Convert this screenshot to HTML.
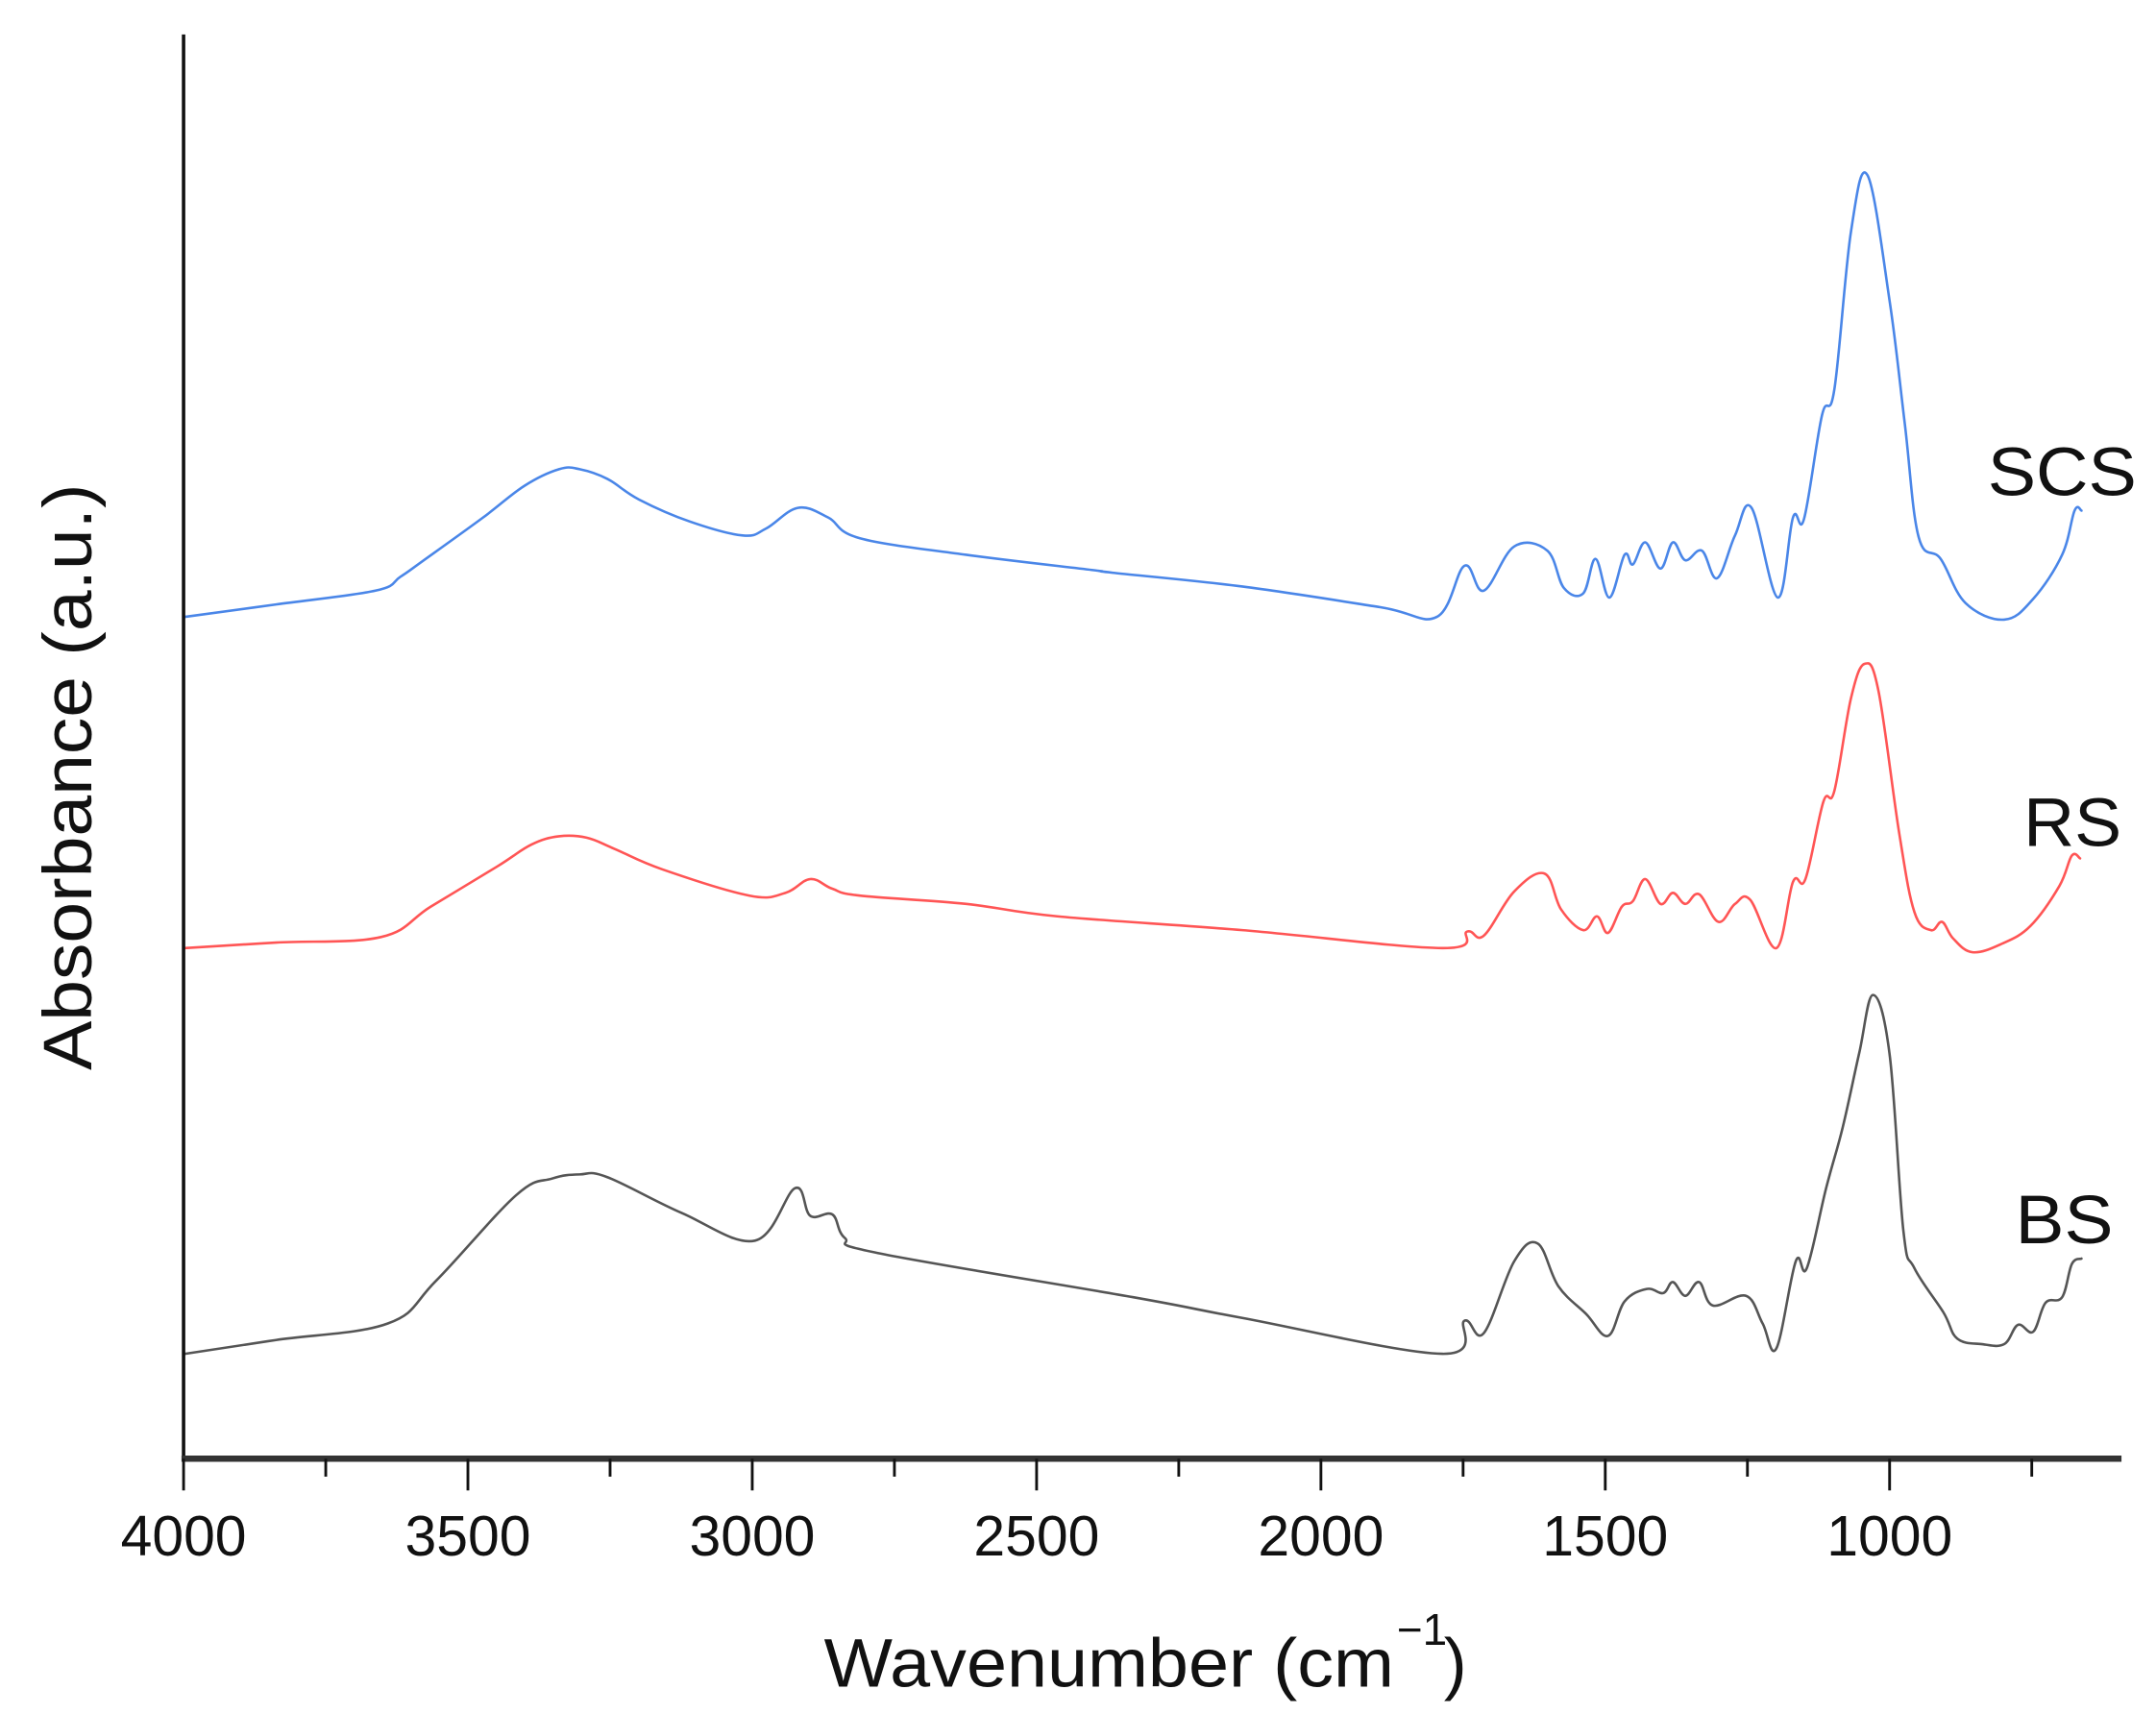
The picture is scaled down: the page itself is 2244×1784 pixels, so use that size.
<!DOCTYPE html>
<html><head><meta charset="utf-8"><style>
html,body{margin:0;padding:0;background:#fff;}
svg{display:block;}
</style></head><body>
<svg id="s" xmlns="http://www.w3.org/2000/svg" width="2244" height="1784" viewBox="0 0 1562 1242" preserveAspectRatio="none">
<rect width="1562" height="1242" fill="#fff"/>
<g id="curves" fill="none" stroke-linejoin="round" stroke-linecap="round" stroke-width="1.8">
<polyline stroke="#4a86e8" points="134,447 200,438 272,428 290,418 307,406 350,375 380,352 405,340 420,340 440,347 463,362 500,378 538,388 555,383 578,368 600,375 623,390 700,402 791,413 806,415 900,425 1000,440 1041,447 1061,410 1075,428 1097,396 1121,399 1133,426 1147,430 1156,405 1166,433 1177,402 1183,409 1192,393 1203,412 1212,393 1221,406 1233,399 1244,419 1257,388 1269,368 1288,433 1299,375 1307,376 1320,301 1329,282 1341,168 1353,127 1369,218 1380,307 1390,389 1406,405 1424,437 1452,449 1473,434 1494,402 1503,370 1508,370"/>
<polyline stroke="#ff5555" points="134,687 200,683 276,679 312,657 360,628 385,612 405,606 425,607 445,615 480,630 543,649 569,647 587,637 603,644 623,649 700,655 766,664 900,674 1045,687 1063,675 1075,678 1097,646 1119,633 1131,659 1147,674 1157,664 1165,676 1175,657 1183,653 1192,637 1203,655 1212,647 1221,655 1231,648 1245,668 1257,655 1268,652 1287,687 1299,639 1308,637 1321,581 1329,573 1341,506 1351,481 1361,501 1376,604 1387,661 1399,674 1407,668 1415,680 1429,690 1450,684 1471,671 1492,642 1501,620 1507,622"/>
<polyline stroke="#555" points="134,981 200,971 281,959 316,928 374,866 400,854 420,851 440,853 494,879 547,899 576,861 587,881 603,880 612,897 636,908 821,940 900,955 1045,981 1061,957 1075,966 1097,914 1114,901 1129,932 1149,952 1165,968 1177,943 1193,934 1205,937 1212,929 1221,939 1231,929 1241,946 1265,939 1277,959 1287,977 1301,914 1309,919 1323,861 1335,817 1347,763 1357,721 1369,764 1379,892 1387,919 1408,951 1418,970 1436,974 1452,974 1462,960 1473,965 1482,944 1494,940 1501,916 1508,912"/>
</g>
<line x1="133" y1="25" x2="133" y2="1058" stroke="#111" stroke-width="2.5"/>
<line x1="131.5" y1="1057" x2="1537" y2="1057" stroke="#333" stroke-width="4.5"/>
<g stroke="#111" stroke-width="2">
<line x1="133" y1="1057" x2="133" y2="1080"/>
<line x1="236" y1="1057" x2="236" y2="1070"/>
<line x1="339" y1="1057" x2="339" y2="1080"/>
<line x1="442" y1="1057" x2="442" y2="1070"/>
<line x1="545" y1="1057" x2="545" y2="1080"/>
<line x1="648" y1="1057" x2="648" y2="1070"/>
<line x1="751" y1="1057" x2="751" y2="1080"/>
<line x1="854" y1="1057" x2="854" y2="1070"/>
<line x1="957" y1="1057" x2="957" y2="1080"/>
<line x1="1060" y1="1057" x2="1060" y2="1070"/>
<line x1="1163" y1="1057" x2="1163" y2="1080"/>
<line x1="1266" y1="1057" x2="1266" y2="1070"/>
<line x1="1369" y1="1057" x2="1369" y2="1080"/>
<line x1="1472" y1="1057" x2="1472" y2="1070"/>
</g>
<g font-family="Liberation Sans, Arial, sans-serif" fill="#111" font-size="41" text-anchor="middle">
<text x="133" y="1127">4000</text>
<text x="339" y="1127">3500</text>
<text x="545" y="1127">3000</text>
<text x="751" y="1127">2500</text>
<text x="957" y="1127">2000</text>
<text x="1163" y="1127">1500</text>
<text x="1369" y="1127">1000</text>
</g>
<g font-family="Liberation Sans, Arial, sans-serif" fill="#111" font-size="50">
<text x="597" y="1222" textLength="413" lengthAdjust="spacingAndGlyphs">Wavenumber (cm</text>
<text x="1012" y="1192" font-size="32">−1</text>
<text x="1046" y="1222">)</text>
<text transform="translate(66,563) rotate(-90)" text-anchor="middle" textLength="425" lengthAdjust="spacingAndGlyphs">Absorbance (a.u.)</text>
<text x="1440" y="359" textLength="108" lengthAdjust="spacingAndGlyphs">SCS</text>
<text x="1466" y="613" textLength="71" lengthAdjust="spacingAndGlyphs">RS</text>
<text x="1460" y="901" textLength="71" lengthAdjust="spacingAndGlyphs">BS</text>
</g>
</svg>
<script>
(function(){
var NS="http://www.w3.org/2000/svg";
var pls=document.querySelectorAll('#curves polyline');
for(var k=0;k<pls.length;k++){
 var pl=pls[k];
 var pts=pl.getAttribute('points').trim().split(/\s+/).map(function(s){var a=s.split(',');return [+a[0],+a[1]];});
 var d="M"+pts[0][0]+","+pts[0][1];
 for(var i=0;i<pts.length-1;i++){
  var p0=pts[i-1]||pts[i],p1=pts[i],p2=pts[i+1],p3=pts[i+2]||p2;
  var t=0.18;
  var c1=[p1[0]+(p2[0]-p0[0])*t,p1[1]+(p2[1]-p0[1])*t];
  var c2=[p2[0]-(p3[0]-p1[0])*t,p2[1]-(p3[1]-p1[1])*t];
  d+=" C"+c1[0].toFixed(2)+","+c1[1].toFixed(2)+" "+c2[0].toFixed(2)+","+c2[1].toFixed(2)+" "+p2[0]+","+p2[1];
 }
 var p=document.createElementNS(NS,'path');
 p.setAttribute('d',d);p.setAttribute('stroke',pl.getAttribute('stroke'));
 pl.parentNode.replaceChild(p,pl);
}
})();
</script>
</body></html>
